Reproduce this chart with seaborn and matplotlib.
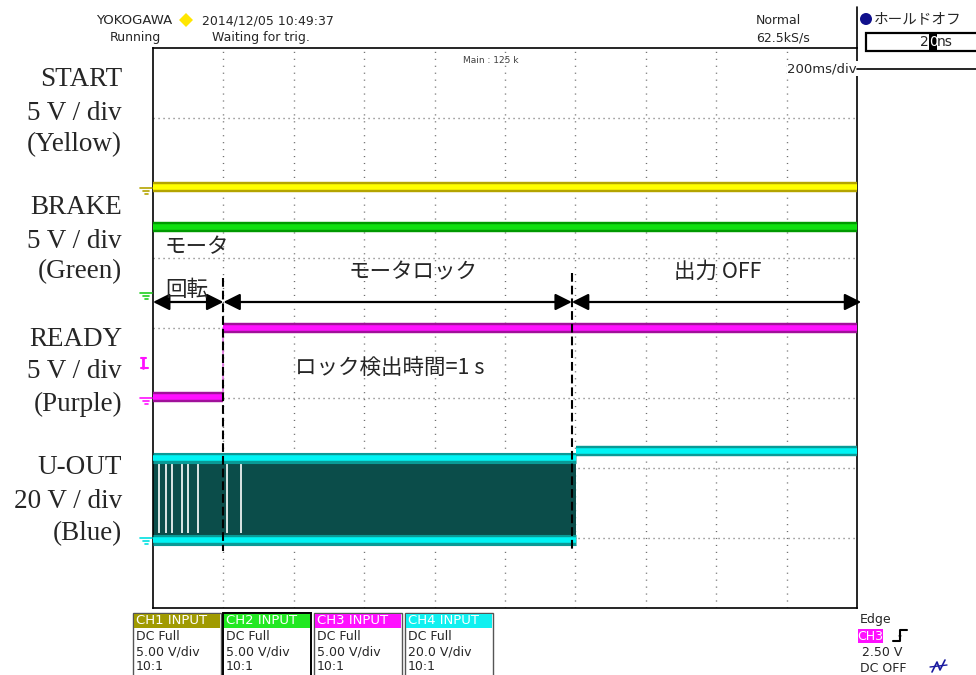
import numpy as np
import pandas as pd
import seaborn as sns
import matplotlib.pyplot as plt
from matplotlib.patches import Rectangle, Ellipse, Polygon
from matplotlib.lines import Line2D

# ---- screen geometry (10 x 8 divisions, 200 ms/div) ----
MS_PER_DIV = 200
X_DIVS = 10
Y_DIVS = 8

# ---- channel setup: ground position (div) and sensitivity (V/div) ----
ch_names = ["START", "BRAKE", "READY", "U-OUT"]
ch_ground_div = [2.0, 0.5, -1.0, -3.0]
ch_volts_per_div = [5.0, 5.0, 5.0, 20.0]
ch_label_colors = ["Yellow", "Green", "Purple", "Blue"]

# ---- captured levels (step changes, time in ms, level in V) ----
start_t = [0, 2000]
start_v = [0.1, 0.1]

brake_t = [0, 2000]
brake_v = [4.7, 4.7]

ready_t = [0, 200, 2000]
ready_v = [0.1, 5.0, 5.0]

# U-OUT: PWM between low and high until output is switched off
uout_t = [0, 1202, 2000]
uout_high_v = [24.2, 24.8, 24.8]
uout_low_v = [-0.6, 24.8, 24.8]
pwm_gap_ms = [17, 37, 54, 82, 99, 128, 210, 250]

# ---- annotation timings ----
lock_start_ms = 200
output_off_ms = 1190
trigger_level_v = 2.5

W, H = 976, 675
fig = plt.figure(figsize=(W / 100, H / 100), dpi=100)
sns.set_theme(style="white")
plt.rcParams["font.family"] = ["Noto Sans CJK JP", "DejaVu Sans"]

L, T, R, B = 153, 48, 857, 608
ax = fig.add_axes([L / W, 1 - B / H, (R - L) / W, (B - T) / H])
ax.set_xlim(0, X_DIVS * MS_PER_DIV)
ax.set_ylim(-Y_DIVS / 2, Y_DIVS / 2)
ax.set_xticks([])
ax.set_yticks([])
for s in ax.spines.values():
    s.set_color("black")
    s.set_linewidth(1.2)

PX_Y = (Y_DIVS) / (B - T)          # div per pixel (vertical)


def to_div(ch, volts):
    return [ch_ground_div[ch] + v / ch_volts_per_div[ch] for v in volts]


# ---- dotted graticule ----
for k in range(1, X_DIVS):
    ax.plot([k * MS_PER_DIV] * 2, [-4, 4], color="#6e6e6e", lw=1.0,
            ls=(0, (0.8, 4.2)), zorder=1)
for k in range(1, Y_DIVS):
    y = -4 + k
    ax.plot([0, 2000], [y, y], color="#6e6e6e", lw=1.0,
            ls=(0, (0.8, 2.8)), zorder=1)


def segments(t, v):
    rows = []
    for i in range(len(t) - 1):
        rows.append({"t": t[i], "y": v[i], "seg": i})
        rows.append({"t": t[i + 1], "y": v[i], "seg": i})
    return pd.DataFrame(rows)


def draw_trace(t, y, core, fringe, edge):
    df = segments(t, y)
    sns.lineplot(data=df, x="t", y="y", units="seg", estimator=None, sort=False,
                 color=fringe, lw=7.5, ax=ax, zorder=3, solid_capstyle="butt")
    sns.lineplot(data=df, x="t", y="y", units="seg", estimator=None, sort=False,
                 color=core, lw=4.0, ax=ax, zorder=4, solid_capstyle="butt")
    for i in range(1, len(t) - 1):
        if y[i] != y[i - 1]:
            edge_df = pd.DataFrame({"t": [t[i], t[i]], "y": [y[i - 1], y[i]]})
            sns.lineplot(data=edge_df, x="t", y="y", estimator=None, sort=False,
                         color=edge, lw=1.2, ax=ax, zorder=3)


draw_trace(start_t, to_div(0, start_v), "#ffff00", "#b4a400", "#ffff00")
draw_trace(brake_t, to_div(1, brake_v), "#10e010", "#009a00", "#10e010")
draw_trace(ready_t, to_div(2, ready_v), "#ff10ff", "#a0109a", "#e070e0")

# U-OUT: dense PWM region, then steady high level
hi = to_div(3, uout_high_v)
lo = to_div(3, uout_low_v)
ax.fill_between([uout_t[0], uout_t[1]], [lo[0], lo[0]], [hi[0], hi[0]],
                color="#0b4d4a", lw=0, zorder=2)
ax.vlines(pwm_gap_ms, lo[0] + 0.1, hi[0] - 0.05, color="white", lw=1.2, zorder=2.5)
pwm_df = pd.DataFrame({"t": [0, uout_t[1], 0, uout_t[1]],
                       "y": [hi[0] - 0.06, hi[0] - 0.06, lo[0], lo[0]],
                       "seg": [0, 0, 1, 1]})
sns.lineplot(data=pwm_df, x="t", y="y", units="seg", estimator=None, sort=False,
             color="#0a9a96", lw=8.0, ax=ax, zorder=3, solid_capstyle="butt")
sns.lineplot(data=pwm_df, x="t", y="y", units="seg", estimator=None, sort=False,
             color="#00f4f4", lw=4.0, ax=ax, zorder=4, solid_capstyle="butt")
post_df = pd.DataFrame({"t": [uout_t[1], uout_t[2]], "y": [hi[1], hi[1]]})
sns.lineplot(data=post_df, x="t", y="y", estimator=None, sort=False,
             color="#0a9a96", lw=7.5, ax=ax, zorder=3, solid_capstyle="butt")
sns.lineplot(data=post_df, x="t", y="y", estimator=None, sort=False,
             color="#00f4f4", lw=4.0, ax=ax, zorder=4, solid_capstyle="butt")

# ---- ground markers and trigger level marker at the left edge ----
gnd_colors = ["#b4a400", "#20d020", "#ff10ff", "#00e0e0"]
for ch in range(4):
    g = ch_ground_div[ch]
    for (x0, x1), dy in zip([(-37, -3), (-28, -10), (-22, -15)], [0, 3, 6]):
        ax.plot([x0, x1], [g - dy * PX_Y] * 2, color=gnd_colors[ch], lw=1.2,
                clip_on=False, zorder=5)
ty = ch_ground_div[2] + trigger_level_v / ch_volts_per_div[2]
ax.plot([-28, -28], [ty - 0.07, ty + 0.07], color="#ff10ff", lw=2, clip_on=False)
ax.plot([-34, -20], [ty + 0.07] * 2, color="#ff10ff", lw=1.5, clip_on=False)
ax.plot([-34, -14], [ty - 0.07] * 2, color="#ff10ff", lw=1.5, clip_on=False)

# ---- timing annotations ----
dash_top = [0.72, 0.79]
for xm, yt in zip([lock_start_ms, output_off_ms], dash_top):
    ax.plot([xm, xm], [yt, -3.18], color="black", lw=1.5, ls=(0, (4.2, 1.9)),
            zorder=6)

arrow_y = (328 - 302) * PX_Y
for x0, x1 in [(0, lock_start_ms), (lock_start_ms, output_off_ms),
               (output_off_ms, 2012)]:
    ax.annotate("", xy=(x1, arrow_y), xytext=(x0, arrow_y), annotation_clip=False,
                arrowprops=dict(arrowstyle="<|-|>,head_length=0.5,head_width=0.25",
                                color="black", lw=1.6, mutation_scale=20,
                                shrinkA=0, shrinkB=0), zorder=7)

jp = 15.5
ax.text(34, 1.16, "モータ", fontsize=jp, ha="left", va="center", zorder=7)
ax.text(34, 0.55, "回転", fontsize=jp, ha="left", va="center", zorder=7)
ax.text(740, 0.8, "モータロック", fontsize=jp, ha="center", va="center", zorder=7)
ax.text(1605, 0.8, "出力 OFF", fontsize=jp, ha="center", va="center", zorder=7)
ax.text(403, -0.57, "ロック検出時間=1 s", fontsize=jp, ha="left", va="center", zorder=7)

ax.text(0.44, 0.985, "Main : 125 k", transform=ax.transAxes, fontsize=6.5,
        color="#404040", ha="left", va="top", family="DejaVu Sans")
ax.text(1.0, 0.975, "200ms/div", transform=ax.transAxes, fontsize=9.5,
        ha="right", va="top", family="DejaVu Sans", zorder=8,
        bbox=dict(facecolor="white", edgecolor="none", pad=0.5))


# ---- figure-level helpers (pixel coordinates) ----
def fx(x):
    return x / W


def fy(y):
    return 1 - y / H


def ftext(x, y, s, **kw):
    kw.setdefault("va", "center")
    kw.setdefault("family", "DejaVu Sans")
    fig.text(fx(x), fy(y), s, **kw)


def fline(xs, ys, **kw):
    fig.add_artist(Line2D([fx(x) for x in xs], [fy(y) for y in ys],
                          transform=fig.transFigure, **kw))


# channel names on the left
label_rows = [(80, 113, 145), (208, 241, 272), (339, 372, 404), (468, 501, 534)]
for ch, rows in enumerate(label_rows):
    vpd = ch_volts_per_div[ch]
    lines = [ch_names[ch], f"{vpd:g} V / div", f"({ch_label_colors[ch]})"]
    for y, s in zip(rows, lines):
        ftext(122, y, s, ha="right", fontsize=19.5, family="Liberation Serif")

# header
ftext(96, 20, "YOKOGAWA", fontsize=9.5, ha="left", family="DejaVu Sans")
fig.add_artist(Polygon([[fx(186), fy(13)], [fx(193), fy(20)], [fx(186), fy(27)],
                        [fx(179), fy(20)]], closed=True, transform=fig.transFigure,
                       facecolor="#ffe600", edgecolor="none"))
ftext(202, 21, "2014/12/05 10:49:37", fontsize=9, ha="left")
ftext(110, 38, "Running", fontsize=9, ha="left")
ftext(212, 38, "Waiting for trig.", fontsize=9, ha="left")
ftext(756, 21, "Normal", fontsize=9, ha="left")
ftext(756, 38, "62.5kS/s", fontsize=9, ha="left")

# hold-off panel
fline([857, 857], [7, 48], color="black", lw=1.2)
fline([857, 976], [69, 69], color="black", lw=1.2)
fig.add_artist(Ellipse((fx(866), fy(19)), 12 / W, 12 / H, transform=fig.transFigure,
                       facecolor="#10108c", edgecolor="none"))
ftext(874, 19, "ホールドオフ", fontsize=10.5, ha="left",
      family=["Noto Sans CJK JP", "DejaVu Sans"])
fig.add_artist(Rectangle((fx(866), fy(51)), (990 - 866) / W, 18 / H,
                         transform=fig.transFigure, facecolor="white",
                         edgecolor="black", lw=1.6))
ftext(929, 42, "2", fontsize=10, ha="right")
fig.add_artist(Rectangle((fx(929), fy(50)), 8 / W, 16 / H, transform=fig.transFigure,
                         facecolor="black", edgecolor="none"))
ftext(933, 42, "0", fontsize=10, ha="center", color="white")
ftext(937, 42, "ns", fontsize=10, ha="left")

# channel input boxes
box_x = [133, 223, 314, 405]
box_w = 88
box_fill = ["#a09a00", "#22e822", "#ff10ff", "#10f0f0"]
box_edge = ["#555555", "#000000", "#555555", "#555555"]
box_vpd = ["5.00 V/div", "5.00 V/div", "5.00 V/div", "20.0 V/div"]
for i in range(4):
    x0 = box_x[i]
    fig.add_artist(Rectangle((fx(x0), fy(690)), box_w / W, (690 - 613) / H,
                             transform=fig.transFigure, facecolor="white",
                             edgecolor=box_edge[i], lw=1.4 if i == 1 else 1.0))
    fig.add_artist(Rectangle((fx(x0 + 1), fy(628)), (box_w - 2) / W, 14 / H,
                             transform=fig.transFigure, facecolor=box_fill[i],
                             edgecolor="none"))
    ftext(x0 + 3, 620.5, f"CH{i + 1} INPUT", fontsize=9.5, ha="left", color="white")
    ftext(x0 + 3, 636, "DC Full", fontsize=9, ha="left")
    ftext(x0 + 3, 652, box_vpd[i], fontsize=9, ha="left")
    ftext(x0 + 3, 667, "10:1", fontsize=9, ha="left")

# trigger panel
ftext(860, 620, "Edge", fontsize=9, ha="left")
fig.add_artist(Rectangle((fx(858), fy(643)), 25 / W, 14 / H, transform=fig.transFigure,
                         facecolor="#ff10ff", edgecolor="none"))
ftext(870.5, 636, "CH3", fontsize=9, ha="center", color="white")
fline([893, 900, 900, 907], [641, 641, 630, 630], color="black", lw=1.5)
fig.add_artist(Polygon([[fx(897), fy(637)], [fx(903), fy(637)], [fx(900), fy(632)]],
                       closed=True, transform=fig.transFigure, facecolor="black"))
ftext(862, 652, "2.50 V", fontsize=9, ha="left")
ftext(860, 668, "DC OFF", fontsize=9, ha="left")
fline([932, 937, 940, 945], [672, 662, 670, 660], color="#1a1aa0", lw=1.2)
fline([930, 947], [667, 665], color="#1a1aa0", lw=1.0)

fig.savefig("out.png", dpi=100)
